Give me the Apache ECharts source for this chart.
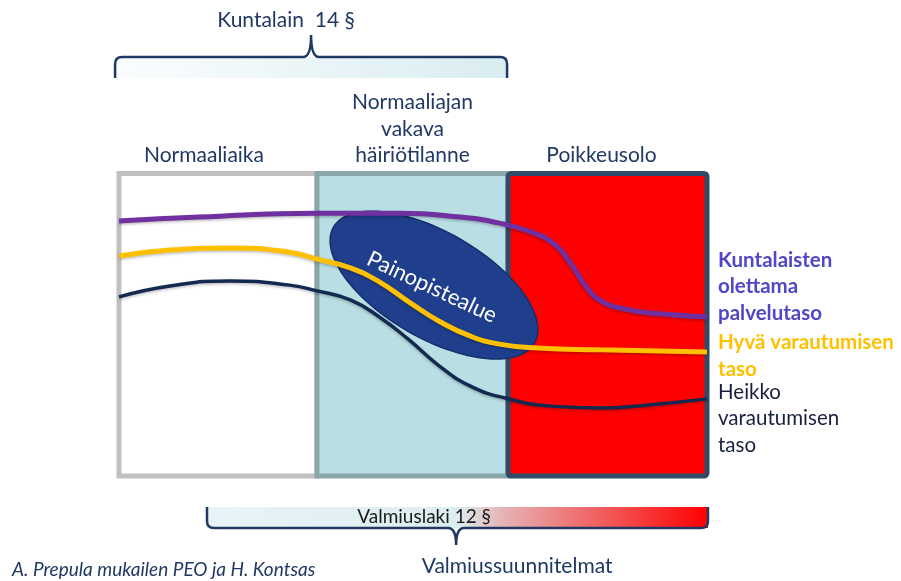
<!DOCTYPE html>
<html>
<head>
<meta charset="utf-8">
<script src="https://cdn.jsdelivr.net/npm/echarts@6/dist/echarts.min.js"></script>
<style>
  html, body { margin: 0; padding: 0; background: #fff; }
  #chart { width: 901px; height: 581px; }
</style>
</head>
<body>
<div id="chart"></div>
<script>
// x axis: one unit per phase, y axis: level 0..100
const phases = ['Normaaliaika', 'Normaaliajan\nvakava\nhäiriötilanne', 'Poikkeusolo'];
const phaseBounds = [0, 1.01, 1.985, 3];

const levelNames = [
  'Kuntalaisten\nolettama\npalvelutaso',
  'Hyvä varautumisen\ntaso',
  'Heikko\nvarautumisen\ntaso'
];

const expectedLevel = [
  [0, 84.3], [0.41, 85.6], [1.01, 86.9], [1.43, 86.9], [1.74, 85.6], [1.94, 83.6],
  [2.1, 80.7], [2.22, 76.7], [2.3, 70.7], [2.38, 62.8], [2.45, 58.2], [2.58, 55.2],
  [2.76, 53.6], [3, 52.6]
];
const goodLevel = [
  [0, 72.7], [0.26, 74.7], [0.58, 75.4], [0.87, 74.0], [1.01, 71.7], [1.18, 68.8],
  [1.33, 64.1], [1.48, 57.5], [1.64, 50.9], [1.79, 46.3], [1.94, 43.6], [2.14, 42.3],
  [2.45, 41.7], [3, 41.0]
];
const weakLevel = [
  [0, 59.2], [0.26, 62.8], [0.57, 64.5], [0.87, 63.1], [1.01, 61.2], [1.18, 58.2],
  [1.33, 52.5], [1.48, 45.0], [1.63, 36.6], [1.79, 29.8], [1.98, 25.6], [2.2, 23.1],
  [2.45, 22.5], [2.7, 23.5], [3, 25.5]
];

const focusArea = [[1.607, 63.1, 'Painopistealue']];

// [x start, x end, x tip, level, label, second label]
const brackets = [
  [-0.02, 1.98, 0.98, 138.5, 'Kuntalain  14 §', ''],
  [0.449, 3.005, 1.72, -17.2, 'Valmiuslaki 12 §', 'Valmiussuunnitelmat']
];

const credit = 'A. Prepula mukailen PEO ja H. Kontsas';

const FONT = 'Lato, "Noto Sans", sans-serif';
const TEXT = '#1f3864';
const boxFill = ['#ffffff', '#b9dfe5', '#ff0000'];
const boxStroke = ['#c0c0c0', '#8aa6a9', '#2f4b68'];
const labelShift = [-14, 0, -6];

const chart = echarts.init(document.getElementById('chart'));

function renderBox(params, api) {
  const i = params.dataIndex;
  const p0 = api.coord([api.value(0), 100]);
  const p1 = api.coord([api.value(1), 0]);
  return {
    type: 'group',
    children: [
      {
        type: 'rect',
        shape: { x: p0[0], y: p0[1], width: p1[0] - p0[0], height: p1[1] - p0[1], r: i === 2 ? 3 : 0 },
        style: { fill: boxFill[i], stroke: boxStroke[i], lineWidth: 5 }
      },
      {
        type: 'text',
        x: (p0[0] + p1[0]) / 2 + labelShift[i],
        y: p0[1] - 5,
        style: {
          text: phases[i], fill: TEXT, fontSize: 21, fontFamily: FONT,
          align: 'center', verticalAlign: 'bottom', lineHeight: 26.5
        }
      }
    ]
  };
}

function renderFocus(params, api) {
  const c = api.coord([api.value(0), api.value(1)]);
  const a = 116, b = 53, th = 30 * Math.PI / 180;
  const pts = [];
  for (let k = 0; k < 120; k++) {
    const t = k / 120 * Math.PI * 2;
    pts.push([
      c[0] + a * Math.cos(t) * Math.cos(th) - b * Math.sin(t) * Math.sin(th),
      c[1] + a * Math.cos(t) * Math.sin(th) + b * Math.sin(t) * Math.cos(th)
    ]);
  }
  return {
    type: 'group',
    children: [
      { type: 'polygon', shape: { points: pts }, style: { fill: '#1f3e8c', stroke: '#15306a', lineWidth: 1.5 } },
      {
        type: 'text', x: c[0] - 2, y: c[1] + 2, rotation: -25 * Math.PI / 180,
        style: {
          text: focusArea[params.dataIndex][2], fill: '#ffffff', fontSize: 22, fontFamily: FONT,
          align: 'center', verticalAlign: 'middle'
        }
      }
    ]
  };
}

function renderBracket(params, api) {
  const i = params.dataIndex;
  const lvl = api.value(3);
  const a = api.coord([api.value(0), lvl]);
  const b = api.coord([api.value(1), lvl]);
  const t = api.coord([api.value(2), lvl]);
  const s = lvl > 100 ? 1 : -1; // arms point down for the top brace, up for the bottom one
  const y = a[1], x0 = a[0], x1 = b[0], xt = t[0];
  const arm = 21, r = 7, tip = s > 0 ? 22 : 17;
  const d = [
    'M', x0, y + s * arm,
    'L', x0, y + s * r,
    'Q', x0, y, x0 + r, y,
    'L', xt - 8, y,
    'Q', xt, y, xt, y - s * tip,
    'Q', xt, y, xt + 8, y,
    'L', x1 - r, y,
    'Q', x1, y, x1, y + s * r,
    'L', x1, y + s * arm
  ].join(' ');
  const grad = s > 0
    ? new echarts.graphic.LinearGradient(0, 0, 1, 0, [
        { offset: 0, color: '#fbfdfe' }, { offset: 1, color: '#d9edf1' }])
    : new echarts.graphic.LinearGradient(0, 0, 1, 0, [
        { offset: 0, color: '#e9f4f7' }, { offset: 0.5, color: '#dcedf0' },
        { offset: 0.6, color: '#e6aeb0' }, { offset: 0.8, color: '#f25858' },
        { offset: 1, color: '#ff0000' }]);
  const children = [
    {
      type: 'rect',
      shape: { x: x0, y: s > 0 ? y : y - arm, width: x1 - x0, height: arm },
      style: { fill: grad }
    },
    { type: 'path', shape: { pathData: d }, style: { fill: 'none', stroke: '#1f3864', lineWidth: 2.5 } }
  ];
  const row = brackets[i];
  if (s > 0) {
    children.push({
      type: 'text', x: xt - 25, y: y - 37,
      style: { text: row[4], fill: TEXT, fontSize: 21, fontFamily: FONT, align: 'center', verticalAlign: 'middle' }
    });
  } else {
    children.push({
      type: 'text', x: xt - 32, y: y - 11,
      style: { text: row[4], fill: '#1a1a1a', fontSize: 19, fontFamily: FONT, align: 'center', verticalAlign: 'middle' }
    });
    children.push({
      type: 'text', x: xt + 61, y: y + 38,
      style: { text: row[5], fill: TEXT, fontSize: 21, fontFamily: FONT, align: 'center', verticalAlign: 'middle' }
    });
  }
  return { type: 'group', children };
}

function levelSeries(idx, data, color, width, labelColor, bold, offset) {
  return {
    type: 'line',
    name: levelNames[idx],
    data,
    z: 5,
    smooth: 0.5,
    showSymbol: false,
    lineStyle: {
      color, width,
      shadowColor: 'rgba(0,0,0,0.25)', shadowBlur: 3, shadowOffsetY: 1.5
    },
    endLabel: {
      show: true,
      formatter: levelNames[idx],
      color: labelColor,
      fontSize: 20.5,
      fontFamily: FONT,
      fontWeight: bold ? 'bold' : 'normal',
      lineHeight: 26.5,
      align: 'left',
      verticalAlign: 'middle',
      distance: 0,
      offset
    }
  };
}

chart.setOption({
  animation: false,
  grid: { left: 119, right: 194, top: 173.5, bottom: 105 },
  xAxis: { type: 'value', min: 0, max: 3, show: false },
  yAxis: { type: 'value', min: 0, max: 100, show: false },
  graphic: [
    {
      type: 'text', left: 12, top: 560,
      style: { text: credit, fill: TEXT, fontSize: 19, fontStyle: 'italic', fontFamily: FONT }
    }
  ],
  series: [
    {
      type: 'custom', z: 1, silent: true,
      data: phases.map((p, i) => [phaseBounds[i], phaseBounds[i + 1]]),
      renderItem: renderBox
    },
    {
      type: 'custom', z: 1, silent: true,
      data: brackets.map(r => r.slice(0, 4)),
      renderItem: renderBracket
    },
    {
      type: 'custom', z: 3, silent: true,
      data: focusArea.map(r => [r[0], r[1]]),
      renderItem: renderFocus
    },
    levelSeries(0, expectedLevel, '#7030a0', 5, '#4f46c8', true, [11, -30]),
    levelSeries(1, goodLevel, '#ffc000', 5, '#ffc000', true, [11, 4]),
    levelSeries(2, weakLevel, '#13294f', 3.5, '#17203f', false, [11, 20])
  ]
});
</script>
</body>
</html>
